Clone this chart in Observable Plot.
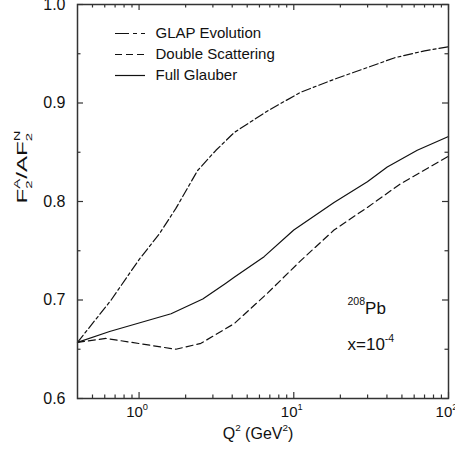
<!DOCTYPE html>
<html><head><meta charset="utf-8">
<script src="https://cdn.jsdelivr.net/npm/d3@7"></script>
<script src="https://cdn.jsdelivr.net/npm/@observablehq/plot@0.6"></script>
<style>body{margin:0;background:#fff}</style>
</head><body><div id="chart"></div>
<script>
// ---- data ----
const seriesNames = ["GLAP Evolution", "Double Scattering", "Full Glauber"];
const glapQ2 = [0.4, 0.66, 1.0, 1.35, 1.73, 2.39, 3.14, 4.12, 6.77, 11.1, 18.2, 29.9, 45, 70, 100];
const glapR  = [0.657, 0.700, 0.741, 0.767, 0.793, 0.8315, 0.852, 0.870, 0.892, 0.911, 0.924, 0.936, 0.946, 0.953, 0.957];
const dsQ2 = [0.4, 0.61, 1.73, 2.51, 3.64, 4.12, 6.77, 11.1, 18.2, 29.9, 49, 100];
const dsR  = [0.657, 0.661, 0.650, 0.656, 0.671, 0.676, 0.707, 0.740, 0.771, 0.794, 0.818, 0.846];
const fgQ2 = [0.4, 0.645, 1.61, 2.58, 3.64, 4.12, 6.43, 10, 18.2, 29.9, 40.2, 62.8, 100];
const fgR  = [0.657, 0.668, 0.686, 0.701, 0.717, 0.723, 0.744, 0.771, 0.799, 0.820, 0.835, 0.852, 0.866];
const xMajor = [1, 10, 100];
const xMinor = [0.5, 0.6, 0.7, 0.8, 0.9, 2, 3, 4, 5, 6, 7, 8, 9, 20, 30, 40, 50, 60, 70, 80, 90];
const xTickLabels = ["10^{0}", "10^{1}", "10^{2}"];
const yMajor = [0.6, 0.7, 0.8, 0.9, 1.0];
const yMinor = [0.65, 0.75, 0.85, 0.95];
const yTickLabels = ["0.6", "0.7", "0.8", "0.9", "1.0"];
const xLabel = "Q^{2} (GeV^{2})";
const yLabel = "F_{2}^{A}/AF_{2}^{N}";
const annNucleus = "^{208}Pb";
const annX = "x=10^{-4}";

// ---- layout ----
const W = 455, H = 452, mL = 77, mR = 7, mT = 4, mB = 54;
const pw = W - mL - mR, ph = H - mT - mB;
const xDomain = [0.4, 100], yDomain = [0.6, 1.0];
const xs = Plot.scale({x: {type: "log", domain: xDomain, range: [mL, W - mR]}});
const ys = Plot.scale({y: {type: "linear", domain: yDomain, range: [H - mB, mT]}});
const ink = "#111", axisInk = "#333";
const dashes = ["9,3,3,3", "7,4", null];
const legendDashes = ["14,4,4,4", "7,4", null];

const toRows = (q, r) => q.map((d, i) => ({q2: d, r: r[i]}));
const curves = [toRows(glapQ2, glapR), toRows(dsQ2, dsR), toRows(fgQ2, fgR)];

const legendY = i => ys.invert(33 + 21 * i);
const lx1 = xs.invert(115), lx2 = xs.invert(145), ltx = xs.invert(155);

const marks = [];
curves.forEach((rows, i) => {
  marks.push(Plot.line(rows, {x: "q2", y: "r", stroke: ink, strokeWidth: 1.2, strokeDasharray: dashes[i] || undefined}));
  marks.push(Plot.ruleY([seriesNames[i]], {y: () => legendY(i), x1: lx1, x2: lx2, stroke: ink, strokeWidth: 1.2, strokeDasharray: legendDashes[i] || undefined}));
});
marks.push(Plot.text(seriesNames, {x: ltx, y: (d, i) => legendY(i), text: d => d, textAnchor: "start", fontSize: 15, fill: ink}));

// ticks (inward, all four sides)
marks.push(
  Plot.ruleX(xMajor, {x: d => d, insetTop: ph - 6, stroke: axisInk, strokeWidth: 1.2}),
  Plot.ruleX(xMajor, {x: d => d, insetBottom: ph - 6, stroke: axisInk, strokeWidth: 1.2}),
  Plot.ruleX(xMinor, {x: d => d, insetTop: ph - 3.5, stroke: axisInk, strokeWidth: 1.2}),
  Plot.ruleX(xMinor, {x: d => d, insetBottom: ph - 3.5, stroke: axisInk, strokeWidth: 1.2}),
  Plot.ruleY(yMajor, {y: d => d, insetRight: pw - 6, stroke: axisInk, strokeWidth: 1.2}),
  Plot.ruleY(yMajor, {y: d => d, insetLeft: pw - 6, stroke: axisInk, strokeWidth: 1.2}),
  Plot.ruleY(yMinor, {y: d => d, insetRight: pw - 3.5, stroke: axisInk, strokeWidth: 1.2}),
  Plot.ruleY(yMinor, {y: d => d, insetLeft: pw - 3.5, stroke: axisInk, strokeWidth: 1.2}),
  Plot.frame({stroke: axisInk, strokeWidth: 1.5})
);

// tick labels
marks.push(
  Plot.text(xMajor, {x: d => d, text: (d, i) => xTickLabels[i], frameAnchor: "bottom", lineAnchor: "top", dy: 8, dx: -2, fontSize: 15, fill: ink}),
  Plot.text(yMajor, {y: d => d, text: (d, i) => yTickLabels[i], frameAnchor: "left", textAnchor: "end", dx: -12, fontSize: 16, fill: ink}),
  Plot.text([xLabel], {text: d => d, frameAnchor: "bottom", dy: 40, dx: -5, fontSize: 16, fill: ink}),
  Plot.text([yLabel], {text: d => d, frameAnchor: "left", rotate: -90, dx: -54.5, dy: 2, fontSize: 14, fill: ink}),
  Plot.text([annNucleus], {text: d => d, frameAnchor: "top-left", textAnchor: "start", dx: 270, dy: 297.3, fontSize: 17, fill: ink}),
  Plot.text([annX], {text: d => d, frameAnchor: "top-left", textAnchor: "start", dx: 270, dy: 333.9, fontSize: 17, fill: ink})
);

const chart = Plot.plot({
  width: W, height: H,
  marginLeft: mL, marginRight: mR, marginTop: mT, marginBottom: mB,
  x: {type: "log", domain: xDomain, axis: null},
  y: {domain: yDomain, axis: null},
  style: {fontFamily: "'Liberation Sans', Arial, sans-serif", background: "white", color: "black", overflow: "hidden"},
  marks
});
document.getElementById("chart").appendChild(chart);

// rich text: ^{sup} and _{sub}
function rich(el) {
  const s = el.textContent;
  if (!/[\^_]\{/.test(s)) return;
  const fs = parseFloat(getComputedStyle(el).fontSize) || 15;
  el.textContent = "";
  const ns = "http://www.w3.org/2000/svg";
  const re = /([\^_])\{([^}]*)\}|([^\^_]+)/g;
  let m, shift = 0, prev = null, prevLen = 0;
  while ((m = re.exec(s))) {
    const t = document.createElementNS(ns, "tspan");
    let target = 0, size = fs;
    if (m[1] === "^") { target = -0.5 * fs; size = 0.62 * fs; }
    else if (m[1] === "_") { target = 0.3 * fs; size = 0.62 * fs; }
    t.textContent = m[1] ? m[2] : m[3];
    t.setAttribute("font-size", size);
    t.setAttribute("dy", target - shift);
    if (m[1] === "^" && prev === "_") t.setAttribute("dx", -prevLen);
    el.appendChild(t);
    shift = target;
    prevLen = t.getComputedTextLength();
    prev = m[1] || null;
  }
}
chart.querySelectorAll("text").forEach(rich);
// the reference's y label is horizontally stretched
chart.querySelectorAll("text").forEach(el => {
  if (el.textContent === "F2A/AF2N") {
    el.setAttribute("textLength", 73);
    el.setAttribute("lengthAdjust", "spacingAndGlyphs");
  }
});
</script>
</body></html>
